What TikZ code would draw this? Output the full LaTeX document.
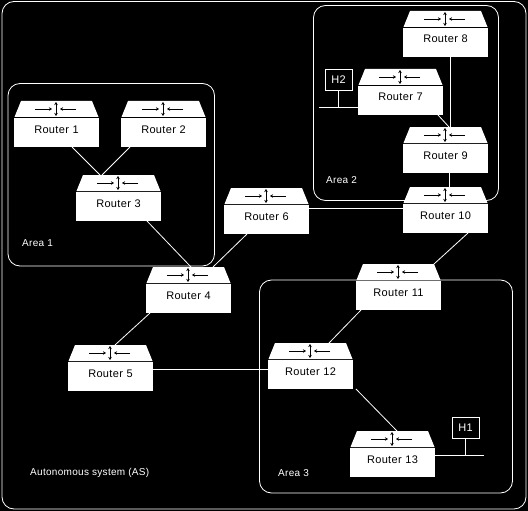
\documentclass[tikz,border=0pt]{standalone}
\usepackage{fontspec}
\setmainfont[LetterSpace=3]{Liberation Sans}
\usetikzlibrary{arrows.meta}
\tikzset{
  routerbody/.style={anchor=north west,fill=white,text=black,inner sep=0pt,outer sep=0pt,minimum width=85pt,text width=85pt,align=center,text height=15pt,text depth=14pt,font=\fontsize{11}{13}\selectfont},
  roofshape/.style={fill=white},
  sym/.style={black,line width=0.7pt},
  symarrow/.style={sym,-{Stealth[length=3pt,width=3.5pt]}},
  link/.style={white,line width=0.8pt},
  areabox/.style={draw=white,line width=0.8pt,rounded corners=12pt},
  lab/.style={text=white,inner sep=0pt,anchor=west,font=\fontsize{10}{12}\selectfont},
  hostbox/.style={draw=white,line width=0.9pt,text=white,fill=black,inner sep=0pt,minimum width=27pt,minimum height=21pt,font=\fontsize{11}{13}\selectfont}
}
\newcommand{\routerbox}[4]{%
  \begin{scope}[shift={(#2,#3)}]
    \coordinate (#1t) at (0,0);
    \fill[roofshape] (0.5,16) -- (7,0) -- (78,0) -- (84.5,16) -- cycle;
    \draw[symarrow] (21,8) -- (38,8);
    \draw[symarrow] (62,8) -- (46,8);
    \draw[sym,{Stealth[length=3pt,width=3.5pt]}-{Stealth[length=3pt,width=3.5pt]}] (42,1) -- (42,15);
    \node[routerbody] (#1) at (0,17) {#4};
  \end{scope}}
\begin{document}
\begin{tikzpicture}[x=1pt,y=-1pt]
\useasboundingbox (0,0) rectangle (528,511);
\fill[black] (0,0) rectangle (528,511);
\draw[areabox] (2,1.5) rectangle (526,509);
\draw[areabox] (8,83.5) rectangle (214.5,266);
\draw[areabox] (313.5,5.5) rectangle (498.5,200.5);
\draw[areabox] (259.5,280) rectangle (512.5,493);

\routerbox{r1}{14}{101}{Router 1}
\routerbox{r2}{121}{101}{Router 2}
\routerbox{r3}{76}{175}{Router 3}
\routerbox{r4}{146}{267}{Router 4}
\routerbox{r5}{68}{345}{Router 5}
\routerbox{r6}{224}{188}{Router 6}
\routerbox{r7}{358}{69}{Router 7}
\routerbox{r8}{403}{11}{Router 8}
\routerbox{r9}{403}{127}{Router 9}
\routerbox{r10}{403}{187}{Router 10}
\routerbox{r11}{356}{264}{Router 11}
\routerbox{r12}{268}{343}{Router 12}
\routerbox{r13}{350}{431}{Router 13}

\draw[link] ([xshift=58pt]r1.south west) -- ([xshift=24pt]r3t);
\draw[link] ([xshift=9pt]r2.south west) -- ([xshift=26pt]r3t);
\draw[link] ([xshift=71pt]r3.south west) -- ([xshift=45pt]r4t);
\draw[link] ([xshift=23pt]r6.south west) -- ([xshift=67pt]r4t);
\draw[link] ([xshift=4pt]r4.south west) -- ([xshift=47pt]r5t);
\draw[link] ([yshift=11.5pt]r6.east) -- ([yshift=10.5pt]r10.west);
\draw[link] ([yshift=7.5pt]r5.east) -- ([yshift=5.5pt]r12.west);
\draw[link] ([xshift=5pt]r11.south west) -- ([xshift=61pt]r12t);
\draw[link] ([xshift=65pt]r10.south west) -- ([xshift=78pt]r11t);
\draw[link] ([xshift=88pt]r12.south west) -- ([xshift=47pt]r13t);
\draw[link] ([xshift=47pt]r8.south west) -- ([xshift=47pt]r9t);
\draw[link] ([xshift=80pt]r7.south west) -- ([xshift=46pt]r9t);
\draw[link] ([xshift=46.5pt]r9.south west) -- ([xshift=46.5pt]r10t);

\node[hostbox] (h2) at (338.5,79.5) {H2};
\node[hostbox] (h1) at (465.5,427.5) {H1};
\coordinate (bus2) at (319,107.5);
\coordinate (bus1) at (484,455);
\draw[link] (bus2) -- (bus2 -| r7.west);
\draw[link] (h2.south) -- (h2.south |- bus2);
\draw[link] (bus1) -- (bus1 -| r13.east);
\draw[link] (h1.south) -- (h1.south |- bus1);

\node[lab] (a1) at (22,243) {Area 1};
\node[lab] (a2) at (326,180) {Area 2};
\node[lab] (a3) at (278,473) {Area 3};
\node[lab] (as) at (30,473) {Autonomous system (AS)};
\end{tikzpicture}
\end{document}
